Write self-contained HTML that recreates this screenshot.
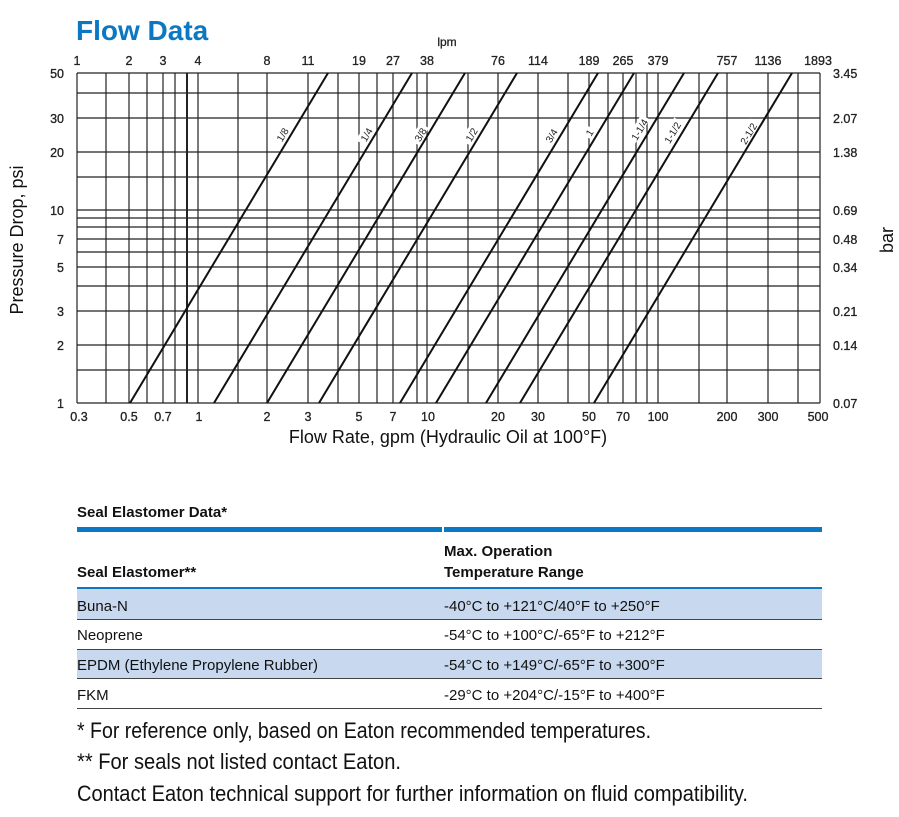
<!DOCTYPE html>
<html><head><meta charset="utf-8"><style>
html,body{margin:0;padding:0;background:#fff;}
svg{display:block;font-family:"Liberation Sans",Arial,sans-serif;}
</style></head><body>
<svg width="899" height="817" viewBox="0 0 899 817" xmlns="http://www.w3.org/2000/svg">
<text x="76" y="40" font-size="28" font-weight="bold" fill="#0a78c2">Flow Data</text>
<g stroke="#222" stroke-width="1.2" fill="none">
<path d="M77 73V403M106 73V403M129 73V403M147 73V403M163 73V403M175 73V403M198 73V403M238 73V403M267 73V403M308 73V403M338 73V403M359 73V403M377 73V403M393 73V403M417 73V403M427 73V403M468 73V403M498 73V403M538 73V403M568 73V403M589 73V403M608 73V403M623 73V403M636 73V403M647 73V403M658 73V403M699 73V403M727 73V403M768 73V403M798 73V403M820 73V403"/>
<path d="M187 73V403" stroke-width="2"/>
<path d="M77 73H820M77 93H820M77 118H820M77 152H820M77 177H820M77 210H820M77 218H820M77 227H820M77 239H820M77 252H820M77 267H820M77 286H820M77 311H820M77 345H820M77 370H820M77 403H820"/>
</g>
<g stroke="#111" stroke-width="2" fill="none">
<path d="M130 403L328 73M214 403L412 73M267 403L465 73M319 403L517 73M400 403L598 73M436 403L634 73M486 403L684 73M520 403L718 73M594 403L792 73"/>
</g>
<g font-size="10" fill="#222" text-anchor="middle">
<g transform="translate(283,135) rotate(-59)"><rect x="-10" y="-7" width="20" height="10" fill="#fff"/><text y="3">1/8</text></g>
<g transform="translate(367,135) rotate(-59)"><rect x="-10" y="-7" width="20" height="10" fill="#fff"/><text y="3">1/4</text></g>
<g transform="translate(421,135) rotate(-59)"><rect x="-10" y="-7" width="20" height="10" fill="#fff"/><text y="3">3/8</text></g>
<g transform="translate(472,135) rotate(-59)"><rect x="-10" y="-7" width="20" height="10" fill="#fff"/><text y="3">1/2</text></g>
<g transform="translate(552,136) rotate(-59)"><rect x="-10" y="-7" width="20" height="10" fill="#fff"/><text y="3">3/4</text></g>
<g transform="translate(590,133) rotate(-59)"><rect x="-5" y="-7" width="10" height="10" fill="#fff"/><text y="3">1</text></g>
<g transform="translate(640,130) rotate(-59)"><rect x="-14" y="-7" width="28" height="10" fill="#fff"/><text y="3">1-1/4</text></g>
<g transform="translate(673,133) rotate(-59)"><rect x="-14" y="-7" width="28" height="10" fill="#fff"/><text y="3">1-1/2</text></g>
<g transform="translate(749,134) rotate(-59)"><rect x="-14" y="-7" width="28" height="10" fill="#fff"/><text y="3">2-1/2</text></g>
</g>
<g font-size="12.5" fill="#222" text-anchor="middle" stroke="#222" stroke-width="0.3">
<text x="447" y="46" font-size="12">lpm</text>
<text x="77" y="65">1</text><text x="129" y="65">2</text><text x="163" y="65">3</text><text x="198" y="65">4</text><text x="267" y="65">8</text><text x="308" y="65">11</text><text x="359" y="65">19</text><text x="393" y="65">27</text><text x="427" y="65">38</text><text x="498" y="65">76</text><text x="538" y="65">114</text><text x="589" y="65">189</text><text x="623" y="65">265</text><text x="658" y="65">379</text><text x="727" y="65">757</text><text x="768" y="65">1136</text><text x="818" y="65">1893</text>
<text x="79" y="421">0.3</text><text x="129" y="421">0.5</text><text x="163" y="421">0.7</text><text x="199" y="421">1</text><text x="267" y="421">2</text><text x="308" y="421">3</text><text x="359" y="421">5</text><text x="393" y="421">7</text><text x="428" y="421">10</text><text x="498" y="421">20</text><text x="538" y="421">30</text><text x="589" y="421">50</text><text x="623" y="421">70</text><text x="658" y="421">100</text><text x="727" y="421">200</text><text x="768" y="421">300</text><text x="818" y="421">500</text>
</g>
<g font-size="12.5" fill="#222" text-anchor="end" stroke="#222" stroke-width="0.3">
<text x="64" y="78">50</text><text x="64" y="123">30</text><text x="64" y="157">20</text><text x="64" y="215">10</text><text x="64" y="244">7</text><text x="64" y="272">5</text><text x="64" y="316">3</text><text x="64" y="350">2</text><text x="64" y="408">1</text>
</g>
<g font-size="12.5" fill="#222" stroke="#222" stroke-width="0.3">
<text x="833" y="78">3.45</text><text x="833" y="123">2.07</text><text x="833" y="157">1.38</text><text x="833" y="215">0.69</text><text x="833" y="244">0.48</text><text x="833" y="272">0.34</text><text x="833" y="316">0.21</text><text x="833" y="350">0.14</text><text x="833" y="408">0.07</text>
</g>
<text x="448" y="443" font-size="18" fill="#111" text-anchor="middle">Flow Rate, gpm (Hydraulic Oil at 100°F)</text>
<text transform="translate(23,240) rotate(-90)" font-size="18" fill="#111" text-anchor="middle">Pressure Drop, psi</text>
<text transform="translate(893,240) rotate(-90)" font-size="18" fill="#111" text-anchor="middle">bar</text>

<text x="77" y="517" font-size="15" font-weight="bold" fill="#111">Seal Elastomer Data*</text>
<rect x="77" y="527" width="745" height="5" fill="#0a78c2"/>
<rect x="442" y="527" width="2" height="5" fill="#fff"/>
<text x="444" y="556" font-size="15" font-weight="bold" fill="#111">Max. Operation</text>
<text x="444" y="577" font-size="15" font-weight="bold" fill="#111">Temperature Range</text>
<text x="77" y="577" font-size="15" font-weight="bold" fill="#111">Seal Elastomer**</text>
<rect x="77" y="587" width="745" height="2" fill="#0a78c2"/>
<rect x="77" y="589" width="745" height="30" fill="#c8d8ee"/>
<rect x="77" y="649" width="745" height="29" fill="#c8d8ee"/>
<g fill="#444"><rect x="77" y="619" width="745" height="1"/><rect x="77" y="649" width="745" height="1"/><rect x="77" y="678" width="745" height="1"/><rect x="77" y="708" width="745" height="1"/></g>
<g font-size="15" fill="#111">
<text x="77" y="611">Buna-N</text><text x="444" y="611">-40°C to +121°C/40°F to +250°F</text>
<text x="77" y="640">Neoprene</text><text x="444" y="640">-54°C to +100°C/-65°F to +212°F</text>
<text x="77" y="670">EPDM (Ethylene Propylene Rubber)</text><text x="444" y="670">-54°C to +149°C/-65°F to +300°F</text>
<text x="77" y="700">FKM</text><text x="444" y="700">-29°C to +204°C/-15°F to +400°F</text>
</g>
<g font-size="22" fill="#111">
<text x="77" y="738" textLength="574" lengthAdjust="spacingAndGlyphs">* For reference only, based on Eaton recommended temperatures.</text>
<text x="77" y="769" textLength="324" lengthAdjust="spacingAndGlyphs">** For seals not listed contact Eaton.</text>
<text x="77" y="801" textLength="671" lengthAdjust="spacingAndGlyphs">Contact Eaton technical support for further information on fluid compatibility.</text>
</g>
</svg>
</body></html>
